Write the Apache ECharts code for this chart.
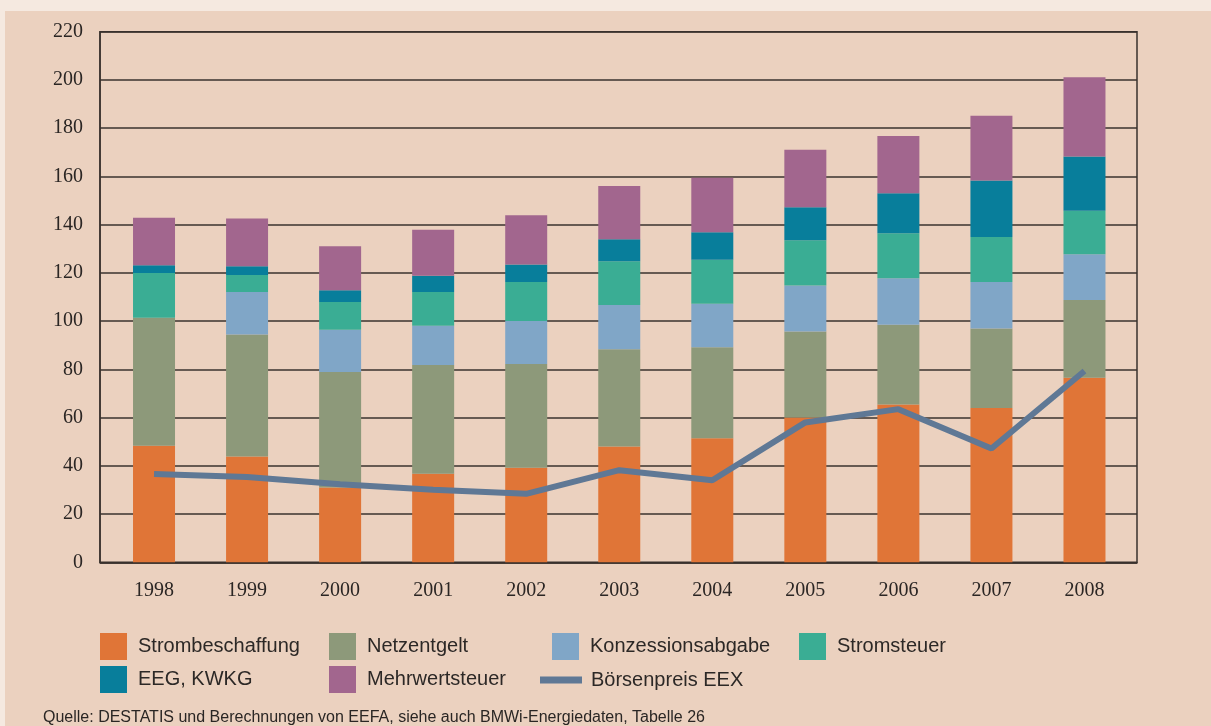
<!DOCTYPE html>
<html>
<head>
<meta charset="utf-8">
<script src="https://cdn.jsdelivr.net/npm/echarts@6/dist/echarts.min.js"></script>
<style>
  html, body { margin: 0; padding: 0; background: #f5e9e0; }
  #chart { width: 1211px; height: 726px; }
</style>
</head>
<body>
<div id="chart"></div>
<script>
// Strompreis-Bestandteile
var years = ['1998', '1999', '2000', '2001', '2002', '2003', '2004', '2005', '2006', '2007', '2008']
var strombeschaffung = [48.3, 43.9, 31.0, 36.7, 39.2, 48.0, 51.4, 60.0, 65.4, 64.0, 76.5]
var netzentgelt = [53.1, 50.5, 47.9, 45.1, 43.0, 40.3, 37.8, 35.7, 33.1, 32.9, 32.3]
var konzessionsabgabe = [0, 17.7, 17.5, 16.3, 17.9, 18.4, 18.0, 19.1, 19.3, 19.3, 18.9]
var stromsteuer = [18.6, 7.0, 11.5, 14.0, 16.1, 18.1, 18.2, 18.7, 18.6, 18.7, 18.1]
var eegKwkg = [3.2, 3.7, 4.9, 6.7, 7.3, 9.1, 11.4, 13.7, 16.6, 23.4, 22.5]
var mehrwertsteuer = [19.7, 19.7, 18.2, 19.1, 20.4, 22.1, 22.6, 23.9, 23.8, 26.8, 32.8]
var boersenpreis = [36.6, 35.4, 32.4, 30.1, 28.4, 38.2, 34.0, 58.0, 63.5, 47.2, 79.3]

var chart = echarts.init(document.getElementById('chart'))

var ink = '#3a322e'
var serif = "'Liberation Serif', 'DejaVu Serif', serif"
var sans = "'Liberation Sans', Arial, sans-serif"

function bar(name, data, color) {
  return {
    name: name,
    type: 'bar',
    stack: 'preis',
    xAxisIndex: 1,
    yAxisIndex: 1,
    barWidth: 42,
    itemStyle: { color: color },
    data: data
  }
}

function legendItem(name, left, top, extra) {
  var l = {
    data: [name],
    left: left,
    top: top,
    padding: 0,
    icon: 'rect',
    itemWidth: 27,
    itemHeight: 27,
    selectedMode: false,
    textStyle: { fontFamily: sans, fontSize: 20, color: '#2c2826', padding: [0, 0, 0, 6] }
  }
  return Object.assign(l, extra || {})
}

chart.setOption({
  backgroundColor: '#f5e9e0',
  animation: false,
  graphic: [
    { type: 'rect', z: -10, shape: { x: 5, y: 11, width: 1206, height: 715 }, style: { fill: '#ebd1bf' } },
    {
      type: 'text', left: 43, top: 710,
      style: { text: 'Quelle: DESTATIS und Berechnungen von EEFA, siehe auch BMWi-Energiedaten, Tabelle 26', font: '16px ' + sans, fill: '#2a2624' }
    }
  ],
  grid: [
    { left: 100, right: 74, top: 31.7, bottom: 163.7, show: true, borderColor: ink, borderWidth: 1.5, backgroundColor: 'transparent' },
    { left: 107.5, right: 80, top: 31.7, bottom: 163.7 }
  ],
  xAxis: [
    { type: 'value', gridIndex: 0, min: 0, max: 1, axisLine: { show: true, lineStyle: { color: ink, width: 1.5 } }, axisTick: { show: false }, axisLabel: { show: false }, splitLine: { show: false } },
    {
      type: 'category', gridIndex: 1, data: years,
      axisLine: { show: false }, axisTick: { show: false },
      axisLabel: { fontFamily: serif, fontSize: 20, color: '#2b2624', margin: 18 }
    }
  ],
  yAxis: [
    {
      type: 'value', gridIndex: 0, min: 0, max: 220, interval: 20,
      axisLine: { show: true, lineStyle: { color: ink, width: 1.5 } },
      axisTick: { show: false },
      axisLabel: { fontFamily: serif, fontSize: 20, color: '#2b2624', margin: 17 },
      splitLine: { lineStyle: { color: ink, width: 1.5 } }
    },
    { type: 'value', gridIndex: 1, min: 0, max: 220, interval: 20, show: false }
  ],
  legend: [
    legendItem('Strombeschaffung', 100, 633),
    legendItem('Netzentgelt', 329, 633),
    legendItem('Konzessionsabgabe', 552, 633),
    legendItem('Stromsteuer', 799, 633),
    legendItem('EEG, KWKG', 100, 666),
    legendItem('Mehrwertsteuer', 329, 666),
    legendItem('Börsenpreis EEX', 540, 670, {
      itemWidth: 42, itemHeight: 7,
      itemStyle: { color: '#5f7895' },
      textStyle: { fontFamily: sans, fontSize: 20, color: '#2c2826', padding: [0, 0, 0, 4] }
    })
  ],
  series: [
    bar('Strombeschaffung', strombeschaffung, '#e07537'),
    bar('Netzentgelt', netzentgelt, '#8d997a'),
    bar('Konzessionsabgabe', konzessionsabgabe, '#80a6c7'),
    bar('Stromsteuer', stromsteuer, '#3aad94'),
    bar('EEG, KWKG', eegKwkg, '#087e9b'),
    bar('Mehrwertsteuer', mehrwertsteuer, '#a2668e'),
    {
      name: 'Börsenpreis EEX',
      type: 'line',
      xAxisIndex: 1,
      yAxisIndex: 1,
      z: 5,
      showSymbol: false,
      symbol: 'none',
      lineStyle: { color: '#5f7895', width: 6 },
      itemStyle: { color: '#5f7895' },
      data: boersenpreis
    }
  ]
})
</script>
</body>
</html>
